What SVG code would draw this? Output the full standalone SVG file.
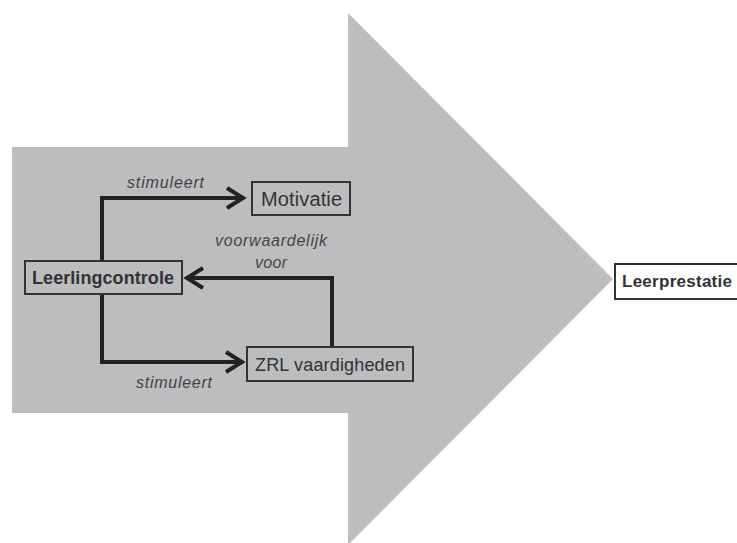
<svg xmlns="http://www.w3.org/2000/svg" width="737" height="543" viewBox="0 0 737 543">
<style>
.box{fill:#bcbdbf;stroke:#333;stroke-width:2}
.lbl{font-family:"Liberation Sans",Arial,sans-serif;fill:#333}
.it{font-family:"Liberation Sans",Arial,sans-serif;font-style:italic;font-size:16px;fill:#444}
.con{fill:none;stroke:#222;stroke-width:4;stroke-linejoin:miter}
</style>
<defs>
<marker id="chev" markerUnits="userSpaceOnUse" markerWidth="30" markerHeight="30" viewBox="-25 -15 30 30" refX="0" refY="0" orient="auto">
<path d="M-17,-10 L-1,0 L-17,10" fill="none" stroke="#222" stroke-width="4"/>
</marker>
</defs>
<rect width="737" height="543" fill="#fff"/>
<polygon id="bigarrow" points="12,147 348,147 348,13 613,279 348,545 348,413 12,413" fill="#bcbdbf"/>
<g id="connectors">
<path class="con" d="M102,261 V198 H244" marker-end="url(#chev)"/>
<path class="con" d="M102,294 V362 H243" marker-end="url(#chev)"/>
<path class="con" d="M332,347 V278 H186" marker-end="url(#chev)"/>
<text class="it" x="127" y="188" textLength="77">stimuleert</text>
<text class="it" x="136" y="388" textLength="76">stimuleert</text>
<text class="it" x="215" y="246" textLength="112">voorwaardelijk</text>
<text class="it" x="255" y="268" textLength="32">voor</text>
</g>
<g id="motivatie">
<rect class="box" x="252" y="182" width="98" height="33"/>
<text class="lbl" x="261" y="206" font-size="20" textLength="81">Motivatie</text>
</g>
<g id="leerlingcontrole">
<rect class="box" x="25" y="261" width="157" height="33"/>
<text class="lbl" x="32" y="284" font-size="18" font-weight="bold" textLength="142">Leerlingcontrole</text>
</g>
<g id="zrl">
<rect class="box" x="247" y="347" width="166" height="34"/>
<text class="lbl" x="255" y="371" font-size="18" textLength="150">ZRL vaardigheden</text>
</g>
<g id="leerprestatie">
<rect x="615" y="264" width="140" height="35" fill="#fff" stroke="#333" stroke-width="2"/>
<text class="lbl" x="622" y="287" font-size="17" font-weight="bold" textLength="110">Leerprestatie</text>
</g>
</svg>
